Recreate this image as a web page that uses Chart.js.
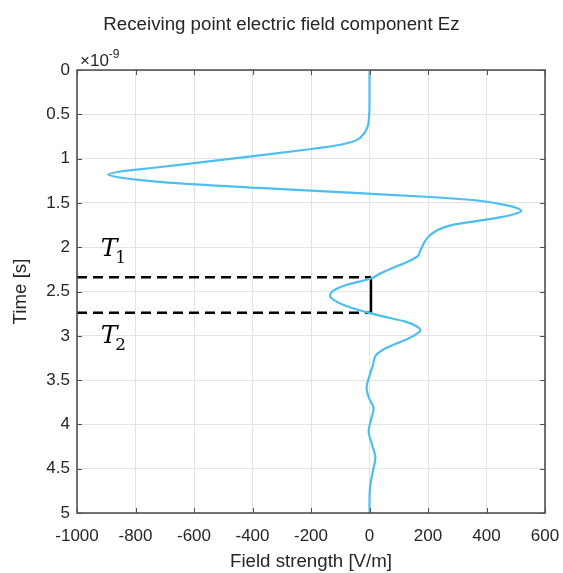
<!DOCTYPE html>
<html><head><meta charset="utf-8">
<script src="https://cdn.jsdelivr.net/npm/chart.js@4/dist/chart.umd.min.js"></script>
<style>html,body{margin:0;padding:0;background:#fff}#wrap{width:563px;height:573px;position:relative}</style>
</head><body><div id="wrap"><canvas id="c"></canvas></div>
<script>
// Time (×1e-9 s) and received field Ez (V/m)
const timeNs = [0,0.4,0.55,0.62,0.66,0.70,0.74,0.78,0.81,0.84,0.87,0.90,0.95,1.00,1.05,1.10,1.14,1.18,1.21,1.24,1.27,1.33,1.39,1.43,1.47,1.53,1.59,1.63,1.68,1.75,1.81,1.87,1.93,1.98,2.05,2.10,2.16,2.24,2.30,2.35,2.43,2.50,2.55,2.60,2.66,2.73,2.77,2.84,2.90,2.94,2.98,3.03,3.09,3.14,3.22,3.33,3.45,3.59,3.70,3.82,3.95,4.08,4.22,4.38,4.52,4.68,4.85,5.0];
const fieldVm = [0,0,-2,-5,-9,-15,-25,-38,-58,-95,-150,-220,-340,-470,-600,-730,-840,-893,-860,-790,-690,-379,-37,191,362,474,519,490,416,280,230,205,190,182,172,165,133,75,35,7,-82,-128,-135,-120,-82,-14,31,123,165,174,160,133,90,55,22,12,0,-10,-2,14,5,-3,8,20,12,3,0,0];
const xTickValues = [-1000,-800,-600,-400,-200,0,200,400,600];
const yTickValues = [0,0.5,1,1.5,2,2.5,3,3.5,4,4.5,5];
const markerTimes = [2.34, 2.74];       // T1, T2
const markerSpan = [-1000, 5];          // dashed line from / to (V/m)
const markerSubs = ['1', '2'];
const markerLabelPos = [[-885, 2.02], [-885, 3.0]]; // [field, time] of T labels

const AX = '#262626';
const FONT = '"Liberation Sans", Arial, sans-serif';
const curve = timeNs.map((t, i) => ({x: fieldVm[i], y: t}));
const datasets = [{
  data: curve, borderColor: '#4DBEEE', borderWidth: 2.2, pointRadius: 0,
  cubicInterpolationMode: 'monotone', fill: false
}];
markerTimes.forEach(t => datasets.push({
  data: [{x: markerSpan[0], y: t}, {x: markerSpan[1], y: t}],
  borderColor: '#000', borderWidth: 2.5, borderDash: [10, 6], pointRadius: 0, tension: 0
}));
datasets.push({
  data: [{x: markerSpan[1], y: markerTimes[0]}, {x: markerSpan[1], y: markerTimes[1]}],
  borderColor: '#000', borderWidth: 2.5, pointRadius: 0, tension: 0
});

const boxPlugin = {
  id: 'box',
  afterDraw(chart) {
    const {ctx, chartArea: a, scales: {x, y}} = chart;
    ctx.save();
    ctx.strokeStyle = '#505050';
    ctx.lineWidth = 1.6;
    ctx.strokeRect(a.left, a.top, a.right - a.left, a.bottom - a.top);
    ctx.lineWidth = 1;
    ctx.beginPath();
    const L = 5;
    xTickValues.forEach(v => {
      const px = Math.round(x.getPixelForValue(v)) + 0.5;
      ctx.moveTo(px, a.bottom); ctx.lineTo(px, a.bottom - L);
      ctx.moveTo(px, a.top); ctx.lineTo(px, a.top + L);
    });
    yTickValues.forEach(v => {
      const py = Math.round(y.getPixelForValue(v)) + 0.5;
      ctx.moveTo(a.left, py); ctx.lineTo(a.left + L, py);
      ctx.moveTo(a.right, py); ctx.lineTo(a.right - L, py);
    });
    ctx.stroke();
    // exponent label
    ctx.fillStyle = AX;
    ctx.textBaseline = 'alphabetic';
    ctx.textAlign = 'left';
    ctx.font = '17px ' + FONT;
    ctx.fillText('\u00d710', a.left + 3, a.top - 4);
    const w = ctx.measureText('\u00d710').width;
    ctx.font = '12px ' + FONT;
    ctx.fillText('-9', a.left + 3 + w, a.top - 12);
    // T labels
    markerLabelPos.forEach((p, i) => {
      const px = x.getPixelForValue(p[0]) - 10;
      const py = y.getPixelForValue(p[1]) + 7;
      ctx.fillStyle = '#000';
      ctx.font = 'italic 25px "DejaVu Serif", "Liberation Serif", serif';
      ctx.fillText('T', px, py);
      const tw = ctx.measureText('T').width;
      ctx.font = '17px "DejaVu Serif", "Liberation Serif", serif';
      ctx.fillText(markerSubs[i], px + tw - 2, py + 7);
    });
    ctx.restore();
  }
};

new Chart(document.getElementById('c'), {
  type: 'line',
  data: {datasets},
  plugins: [boxPlugin],
  options: {
    indexAxis: 'y',
    responsive: true,
    maintainAspectRatio: false,
    animation: false,
    layout: {padding: 0},
    plugins: {
      legend: {display: false},
      tooltip: {enabled: false},
      title: {
        display: true, text: 'Receiving point electric field component Ez',
        color: AX, font: {family: FONT, size: 18.7, weight: 'normal'},
        padding: {top: 13.8, bottom: 33.8}
      }
    },
    scales: {
      x: {
        type: 'linear', min: -1000, max: 600,
        afterBuildTicks(s) { s.ticks = xTickValues.map(v => ({value: v})); },
        afterFit(s) { s.height = 60; s.paddingLeft = 0; s.paddingRight = 18; },
        ticks: {color: AX, font: {family: FONT, size: 17}, padding: 13, maxRotation: 0,
                callback: v => String(v)},
        grid: {color: '#e3e3e3', drawTicks: false, lineWidth: 1},
        border: {display: false},
        title: {display: true, text: 'Field strength [V/m]', color: AX,
                font: {family: FONT, size: 18.7}, padding: {top: 0, bottom: 0}}
      },
      y: {
        type: 'linear', min: 0, max: 5, reverse: true,
        afterBuildTicks(s) { s.ticks = yTickValues.map(v => ({value: v})); },
        afterFit(s) { s.width = 77; s.paddingTop = 0; s.paddingBottom = 0; },
        ticks: {color: AX, font: {family: FONT, size: 17}, padding: 7,
                callback: v => String(v)},
        grid: {color: '#e3e3e3', drawTicks: false, lineWidth: 1},
        border: {display: false},
        title: {display: true, text: 'Time [s]', color: AX,
                font: {family: FONT, size: 18.7}, padding: {top: 10, bottom: 0}}
      }
    }
  }
});
</script></body></html>
